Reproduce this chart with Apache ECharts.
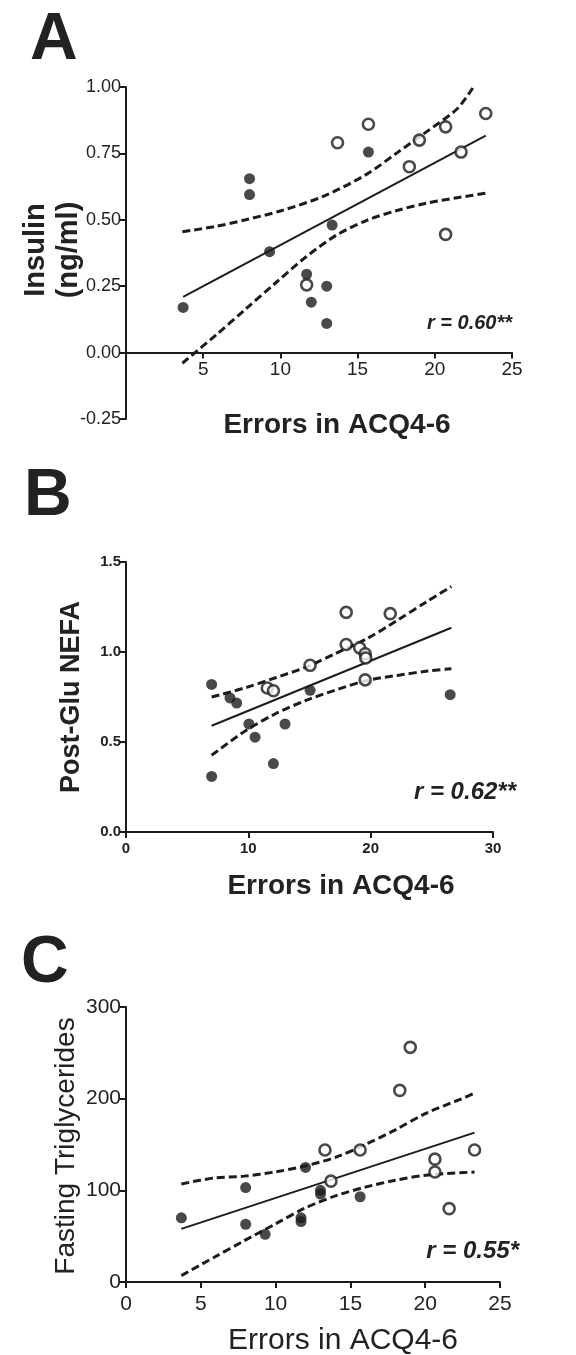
<!DOCTYPE html>
<html>
<head>
<meta charset="utf-8">
<script src="https://cdn.jsdelivr.net/npm/echarts@6/dist/echarts.min.js"></script>
<style>
html,body{margin:0;padding:0;background:#fff;}
#chart{width:576px;height:1355px;}
</style>
</head>
<body>
<div id="chart"></div>
<script>
// ---------- Panel A: Insulin ----------
const aFilled = [[3.7,0.17],[8.0,0.655],[8.0,0.595],[9.3,0.38],[11.7,0.295],[12.0,0.19],[13.0,0.25],[13.0,0.11],[13.35,0.48],[15.7,0.755]];
const aOpen = [[11.7,0.255],[13.7,0.79],[15.7,0.86],[18.35,0.70],[19.0,0.80],[20.7,0.85],[21.7,0.755],[23.3,0.90],[20.7,0.445]];
const aFit = [[3.7,0.21],[23.3,0.817]];
const aUpper = [[3.65,0.455],[5.8,0.475],[7.75,0.50],[10.1,0.535],[12.85,0.59],[15.6,0.672],[17.55,0.752],[19.5,0.833],[21.45,0.918],[22.5,1.0]];
const aLower = [[3.65,-0.04],[5.8,0.065],[7.75,0.164],[9.7,0.263],[11.65,0.36],[13.65,0.443],[15.6,0.498],[17.55,0.535],[19.5,0.563],[21.45,0.583],[23.3,0.60]];
const aXTicks = [0,5,10,15,20,25];
const aYTicks = [-0.25,0,0.25,0.5,0.75,1.0];

// ---------- Panel B: Post-Glu NEFA ----------
const bFilled = [[7.0,0.82],[8.5,0.745],[9.05,0.716],[10.05,0.60],[10.55,0.527],[12.05,0.38],[13.0,0.60],[15.05,0.787],[7.0,0.309],[26.5,0.763]];
const bOpen = [[11.55,0.80],[12.05,0.785],[15.05,0.926],[18.0,1.22],[18.0,1.042],[19.1,1.023],[19.55,0.99],[19.6,0.967],[19.55,0.845],[21.6,1.213]];
const bFit = [[7.0,0.59],[26.6,1.135]];
const bUpper = [[7.0,0.75],[9.74,0.801],[12.22,0.857],[14.71,0.916],[17.2,0.994],[19.69,1.074],[22.18,1.176],[24.66,1.283],[26.6,1.364]];
const bLower = [[7.0,0.426],[9.74,0.561],[12.22,0.657],[14.71,0.731],[17.2,0.79],[19.69,0.842],[22.18,0.87],[24.66,0.894],[26.6,0.907]];
const bXTicks = [0,10,20,30];
const bYTicks = [0,0.5,1.0,1.5];

// ---------- Panel C: Fasting Triglycerides ----------
const cFilled = [[3.7,70],[8.0,103],[8.0,63],[9.3,52],[11.7,70],[11.7,66],[12.0,125],[13.0,100],[13.0,96],[15.65,93]];
const cOpen = [[13.3,144],[13.7,110],[15.65,144],[18.3,209],[19.0,256],[20.65,134],[20.65,120],[21.6,80],[23.3,144]];
const cFit = [[3.7,58],[23.3,163]];
const cUpper = [[3.7,107],[5.9,113.5],[7.9,115.5],[9.95,120],[11.95,126.5],[14.0,136],[16.0,150],[18.0,166],[20.05,184],[22.45,200],[23.3,206]];
const cLower = [[3.7,7],[5.9,27],[7.9,45],[9.95,63],[11.95,80.5],[14.0,94],[16.0,103.5],[18.0,111],[20.05,116.5],[23.3,120]];
const cXTicks = [0,5,10,15,20,25];
const cYTicks = [0,100,200,300];

const INK = '#1c1c1c';
const TXT = '#222';
const FONT = '"Liberation Sans", Arial, sans-serif';

function axisCommon(extra){
  return Object.assign({
    axisLine:{show:true,onZero:false,lineStyle:{color:INK,width:2}},
    axisTick:{show:true,inside:false,length:6,lineStyle:{color:INK,width:2}},
    splitLine:{show:false}
  }, extra);
}

function panelSeries(idx, filled, open, fit, upper, lower, symSize){
  const dash = {type:[8,4], width:3, color:INK};
  return [
    {type:'line', xAxisIndex:idx, yAxisIndex:idx, data:fit, showSymbol:false, symbol:'none', lineStyle:{color:INK,width:2}, z:2, silent:true},
    {type:'line', xAxisIndex:idx, yAxisIndex:idx, data:upper, showSymbol:false, symbol:'none', smooth:0.3, lineStyle:dash, z:2, silent:true},
    {type:'line', xAxisIndex:idx, yAxisIndex:idx, data:lower, showSymbol:false, symbol:'none', smooth:0.3, lineStyle:dash, z:2, silent:true},
    {type:'scatter', xAxisIndex:idx, yAxisIndex:idx, data:filled, symbol:'circle', symbolSize:symSize, itemStyle:{color:INK}, z:3},
    {type:'scatter', xAxisIndex:idx, yAxisIndex:idx, data:open, symbol:'circle', symbolSize:symSize, itemStyle:{color:'#fff', borderColor:INK, borderWidth:2.6}, z:4}
  ];
}

const chart = echarts.init(document.getElementById('chart'), null, {renderer:'canvas'});

// Panel A grid: y from -0.25 to 1.00 over 332px; x axis drawn at y = 0
const aGridH = 332;
const aZeroOffset = -aGridH * (0 - aYTicks[0]) / (aYTicks[aYTicks.length-1] - aYTicks[0]);

const option = {
  animation:false,
  backgroundColor:'#fff',
  grid:[
    {left:126, top:87, width:386, height:aGridH},
    {left:126, top:562, width:367, height:270},
    {left:126, top:1007, width:374, height:275}
  ],
  xAxis:[
    axisCommon({gridIndex:0, type:'value', min:aXTicks[0], max:aXTicks[aXTicks.length-1], interval:5, offset:aZeroOffset,
      axisLabel:{color:TXT, fontFamily:FONT, fontSize:19, margin:8, showMinLabel:false}}),
    axisCommon({gridIndex:1, type:'value', min:bXTicks[0], max:bXTicks[bXTicks.length-1], interval:10,
      axisLabel:{color:TXT, fontFamily:FONT, fontSize:15, fontWeight:'bold', margin:9}}),
    axisCommon({gridIndex:2, type:'value', min:cXTicks[0], max:cXTicks[cXTicks.length-1], interval:5,
      axisLabel:{color:TXT, fontFamily:FONT, fontSize:21, margin:12}})
  ],
  yAxis:[
    axisCommon({gridIndex:0, type:'value', min:aYTicks[0], max:aYTicks[aYTicks.length-1], interval:0.25,
      axisLabel:{color:TXT, fontFamily:FONT, fontSize:18, margin:5, formatter:v=>v.toFixed(2)}}),
    axisCommon({gridIndex:1, type:'value', min:bYTicks[0], max:bYTicks[bYTicks.length-1], interval:0.5,
      axisLabel:{color:TXT, fontFamily:FONT, fontSize:15, fontWeight:'bold', margin:5, formatter:v=>v.toFixed(1)}}),
    axisCommon({gridIndex:2, type:'value', min:cYTicks[0], max:cYTicks[cYTicks.length-1], interval:100,
      axisLabel:{color:TXT, fontFamily:FONT, fontSize:21, margin:5}})
  ],
  series:[].concat(
    panelSeries(0, aFilled, aOpen, aFit, aUpper, aLower, 11),
    panelSeries(1, bFilled, bOpen, bFit, bUpper, bLower, 11),
    panelSeries(2, cFilled, cOpen, cFit, cUpper, cLower, 11)
  ),
  graphic:[
    {type:'text', left:30, top:8, style:{text:'A', font:'bold 66px '+FONT, fill:TXT}},
    {type:'text', left:24, top:464, style:{text:'B', font:'bold 66px '+FONT, fill:TXT}},
    {type:'text', left:21, top:931, style:{text:'C', font:'bold 66px '+FONT, fill:TXT}},
    // Axis titles
    {type:'text', style:{x:0, y:0, text:'Insulin\n(ng/ml)', font:'bold 29px '+FONT, fill:TXT, textAlign:'center', textVerticalAlign:'middle', lineHeight:33}, rotation:Math.PI/2, x:52, y:250},
    {type:'text', style:{x:337, y:425, text:'Errors in ACQ4-6', font:'bold 28px '+FONT, fill:TXT, textAlign:'center', textVerticalAlign:'middle'}},
    {type:'text', style:{x:0, y:0, text:'Post-Glu NEFA', font:'bold 27px '+FONT, fill:TXT, textAlign:'center', textVerticalAlign:'middle'}, rotation:Math.PI/2, x:72, y:697},
    {type:'text', style:{x:341, y:886, text:'Errors in ACQ4-6', font:'bold 28px '+FONT, fill:TXT, textAlign:'center', textVerticalAlign:'middle'}},
    {type:'text', style:{x:0, y:0, text:'Fasting Triglycerides', font:'28px '+FONT, fill:TXT, textAlign:'center', textVerticalAlign:'middle'}, rotation:Math.PI/2, x:66, y:1146},
    {type:'text', style:{x:343, y:1341, text:'Errors in ACQ4-6', font:'30px '+FONT, fill:TXT, textAlign:'center', textVerticalAlign:'middle'}},
    // r values
    {type:'text', style:{x:512, y:323, text:'r = 0.60**', font:'italic bold 20px '+FONT, fill:TXT, textAlign:'right', textVerticalAlign:'middle'}},
    {type:'text', style:{x:516, y:792, text:'r = 0.62**', font:'italic bold 24px '+FONT, fill:TXT, textAlign:'right', textVerticalAlign:'middle'}},
    {type:'text', style:{x:519, y:1251, text:'r = 0.55*', font:'italic bold 24px '+FONT, fill:TXT, textAlign:'right', textVerticalAlign:'middle'}}
  ]
};
chart.setOption(option);
</script>
</body>
</html>
